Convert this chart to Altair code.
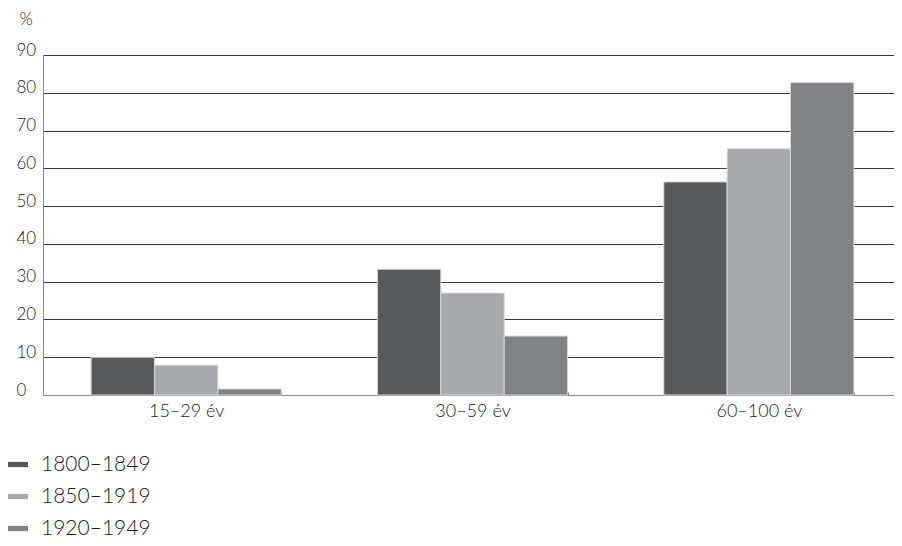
import altair as alt
import pandas as pd

groups = ["15–29 év", "30–59 év", "60–100 év"]
series = ["1800–1849", "1850–1919", "1920–1949"]
values_1800 = [10.0, 33.3, 56.4]
values_1850 = [7.9, 27.0, 65.2]
values_1920 = [1.6, 15.6, 82.7]
colors = ["#58595b", "#a7a9ac", "#808285"]
y_ticks = [0, 10, 20, 30, 40, 50, 60, 70, 80, 90]

rows = []
for s, vals in zip(series, [values_1800, values_1850, values_1920]):
    for g, v in zip(groups, vals):
        rows.append({"group": g, "series": s, "value": v})
df = pd.DataFrame(rows)

FONT = "Lato"
TXT = "#1a1a1a"

bars = alt.Chart(df).mark_bar(stroke="#d9d9d9", strokeWidth=1).encode(
    x=alt.X("group:N", sort=groups,
            scale=alt.Scale(paddingInner=0.336, paddingOuter=0.168),
            axis=alt.Axis(title=None, labelAngle=0, domain=False, offset=-3,
                          ticks=True, tickBand="extent", tickSize=3, tickColor="#777",
                          labelFont=FONT, labelFontWeight=300, labelFontSize=18,
                          labelColor=TXT, labelPadding=7)),
    xOffset=alt.XOffset("series:N", sort=series,
                        scale=alt.Scale(paddingInner=0, paddingOuter=0)),
    y=alt.Y("value:Q", scale=alt.Scale(domain=[0, 90], nice=False),
            axis=alt.Axis(values=y_ticks, title="%", titleAngle=0,
                          titleX=-24, titleY=-31, titleAlign="left",
                          titleBaseline="alphabetic", titleFont=FONT,
                          titleFontWeight=300, titleFontSize=17, titleColor=TXT,
                          ticks=False, labelAlign="left", labelPadding=27,
                          labelBaseline="alphabetic", labelFont=FONT,
                          labelFontWeight=300, labelFontSize=17, labelColor=TXT,
                          domainColor="#888", grid=True,
                          gridColor={"condition": {"test": "datum.value === 0", "value": "#888"},
                                     "value": "#3a3a3a"})),
    color=alt.Color("series:N", sort=series,
                    scale=alt.Scale(domain=series, range=colors),
                    legend=alt.Legend(title=None, orient="none", legendX=-36, legendY=399,
                                      padding=0, symbolType="M-1,-0.25H1V0.25H-1Z",
                                      symbolSize=441, symbolStrokeWidth=0,
                                      labelFont=FONT, labelFontWeight=300, labelFontSize=21,
                                      labelColor=TXT, labelOffset=13, rowPadding=10)),
)

chart = bars.properties(
    width=859, height=340,
    autosize=alt.AutoSizeParams(type="none"),
    padding={"left": 35, "top": 47, "right": -8, "bottom": 143},
).configure_view(stroke=None)

chart.save("out.html", embed_options={"renderer": "svg", "actions": False})
